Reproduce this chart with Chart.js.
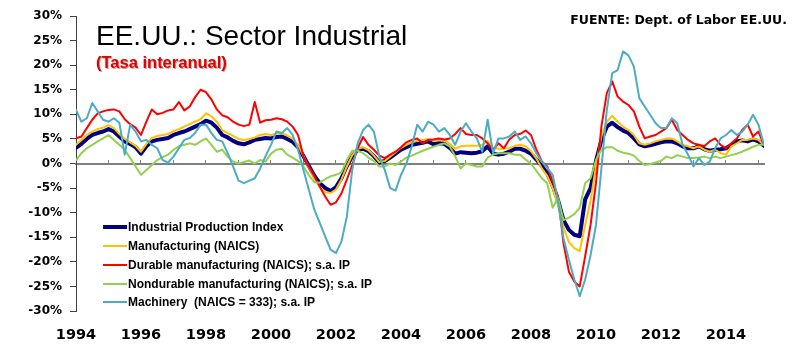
<!DOCTYPE html>
<html>
<head>
<meta charset="utf-8">
<script src="https://cdn.jsdelivr.net/npm/chart.js@4.4.1/dist/chart.umd.min.js"></script>
<style>
  html, body { margin: 0; padding: 0; background: #fff; }
  #wrap { position: relative; width: 800px; height: 355px; overflow: hidden; }
  #c { position: absolute; left: 0; top: 0; }
  .title { position: absolute; left: 96px; top: 22px; font: 28px/28px "Liberation Sans", Arial, sans-serif; color: #000; white-space: nowrap; }
  .subtitle { position: absolute; left: 96px; top: 54px; font: bold 16.5px/16.5px "Liberation Sans", Arial, sans-serif; color: #E00000; text-shadow: 1px 1px 0 rgba(110,0,0,0.35); white-space: nowrap; }
  .source { position: absolute; right: 13px; top: 14px; font: bold 12.5px/12.5px "DejaVu Sans", sans-serif; color: #000; white-space: nowrap; }
  .lg { position: absolute; left: 103px; height: 18px; display: flex; align-items: center; white-space: pre; font: bold 12px/18px "Liberation Sans", Arial, sans-serif; color: #000; }
  .lg span.sw { display: inline-block; width: 24px; margin-right: 1px; }
</style>
</head>
<body>
<div id="wrap">
  <canvas id="c" width="800" height="355"></canvas>
  <div class="title">EE.UU.: Sector Industrial</div>
  <div class="subtitle">(Tasa interanual)</div>
  <div class="source">FUENTE: Dept. of Labor EE.UU.</div>
  <div id="legend"></div>
</div>
<script>
// ---- Data (year-on-year %, sampled every two months from Jan 1994) ----
const startYear = 1994;
const periodsPerYear = 6;

const seriesNames = [
  "Industrial Production Index",
  "Manufacturing (NAICS)",
  "Durable manufacturing (NAICS); s.a. IP",
  "Nondurable manufacturing (NAICS); s.a. IP",
  "Machinery  (NAICS = 333); s.a. IP"
];

const ipIndex = [
  3.2, 4.0, 5.0, 5.8, 6.2, 6.5,
  7.0, 6.5, 5.5, 4.5, 4.0, 3.3,
  2.0, 3.5, 4.5, 4.8, 5.0, 5.2,
  5.8, 6.2, 6.5, 7.0, 7.5, 8.0,
  8.7, 8.3, 7.3, 5.8, 5.3, 4.6,
  4.1, 3.9, 4.3, 4.8, 5.0, 5.2,
  5.1, 5.4, 5.5, 5.0, 4.4, 3.3,
  1.5, -0.5, -2.5, -4.0, -5.0, -5.6,
  -4.8, -3.0, -0.5, 1.5, 2.8, 3.0,
  2.5, 1.5, 0.2, 0.5, 1.2, 2.0,
  2.8, 3.3, 3.8, 4.0, 4.2, 4.5,
  3.9, 4.1, 4.0, 3.2, 2.0, 2.3,
  2.2, 2.1, 2.2, 2.5, 3.5, 2.0,
  1.8, 2.0, 2.4, 3.0, 3.0, 2.6,
  2.0, 0.8, -0.5, -2.0, -4.5, -7.5,
  -11.5, -13.5, -14.5, -14.8, -7.3, -5.0,
  0.5, 4.8, 7.5, 8.3, 7.4, 6.7,
  6.2, 5.1, 3.9, 3.5, 3.7, 4.0,
  4.3, 4.5, 4.5, 4.1, 3.5, 3.1,
  3.1, 3.5, 2.9, 2.6, 2.8, 2.9,
  3.1, 3.8, 4.5, 4.7, 4.5, 4.9,
  4.5, 3.6
];

const manufacturing = [
  3.8, 4.8, 5.8, 6.5, 7.0, 7.3,
  7.8, 7.2, 6.0, 5.0, 4.3, 3.6,
  2.4, 4.0, 5.2, 5.6, 5.8, 6.0,
  6.6, 7.0, 7.5, 8.0, 8.5, 9.0,
  10.2, 9.6, 8.5, 6.8, 6.2, 5.6,
  5.0, 4.8, 5.0, 5.3, 5.8, 6.0,
  5.8, 6.1, 6.2, 5.7, 5.0, 3.8,
  1.5, -0.8, -3.0, -4.8, -5.8, -6.0,
  -5.3, -3.3, -0.6, 1.7, 3.0, 3.3,
  2.7, 1.6, 0.3, 0.5, 1.4, 2.3,
  3.2, 3.8, 4.3, 4.6, 4.8, 5.0,
  4.6, 4.8, 4.8, 4.0, 3.0, 3.5,
  3.6, 3.6, 3.6, 3.8, 4.6, 3.2,
  3.0, 3.0, 3.1, 3.6, 3.8, 3.5,
  2.5, 1.0, -1.0, -2.5, -5.0, -8.5,
  -13.0, -16.0, -17.2, -17.8, -12.5, -7.5,
  -0.5, 5.5, 8.5, 9.7, 8.5, 7.5,
  6.8, 5.8, 4.1, 3.8, 4.1, 4.5,
  4.8, 5.1, 5.1, 4.5, 3.8, 3.5,
  3.1, 3.5, 2.8, 2.4, 2.8, 2.1,
  1.8, 3.5, 4.1, 4.8, 4.8, 5.1,
  4.8, 3.8
];

const durable = [
  5.1, 5.5, 7.2, 8.9, 10.2, 10.6,
  10.9, 11.0, 10.6, 9.0, 8.0, 7.3,
  5.8, 8.5, 11.0, 10.0, 10.3, 10.8,
  11.0, 12.5, 10.8, 11.6, 13.5, 15.0,
  14.5, 13.0, 11.0, 9.8, 9.4, 8.5,
  7.9, 7.6, 7.9, 12.5, 8.3, 8.8,
  8.9, 9.2, 9.0, 8.5, 7.5, 5.8,
  1.4, -0.6, -2.6, -4.7, -6.7, -8.4,
  -7.9, -6.1, -3.3, -0.3, 3.1, 5.4,
  3.8, 2.8, 1.6, 1.1, 1.8, 2.4,
  3.3, 4.3, 4.8, 5.1, 4.1, 4.8,
  4.9, 5.1, 4.9, 5.1, 6.0, 7.2,
  6.0, 5.8, 5.8, 5.1, 4.1, 2.8,
  4.1, 3.1, 4.9, 5.8, 6.0, 6.7,
  5.8, 2.8, 0.4, -0.6, -3.7, -6.7,
  -16.2, -22.0, -24.0, -25.0, -18.9, -12.5,
  -4.0, 7.5, 14.3, 16.7, 13.6, 12.6,
  11.9, 10.6, 7.5, 5.1, 5.5, 5.8,
  6.5, 7.2, 8.9, 6.8, 5.8, 4.8,
  4.1, 3.8, 3.5, 4.5, 5.1, 3.8,
  3.1, 4.1, 5.1, 6.8, 7.9, 5.5,
  6.5, 3.8
];

const nondurable = [
  0.7, 2.1, 3.1, 3.8, 4.5, 5.1,
  5.8, 4.8, 3.8, 2.8, 1.1, -0.6,
  -2.3, -1.3, -0.3, 0.7, 1.3, 1.8,
  2.8, 3.5, 3.8, 4.1, 3.8, 4.5,
  5.1, 3.8, 2.4, 2.8, 1.4, 0.4,
  0.0, 0.3, 0.6, 0.0, 0.7, 0.4,
  2.0, 2.8, 3.0, 1.8, 1.2, 0.5,
  -0.6, -2.4, -3.8, -3.9, -3.2, -2.6,
  -2.3, -1.8, 0.7, 2.6, 2.6, 2.1,
  1.2, 0.5, -0.6, -0.6, 0.0, -0.3,
  0.4, 1.2, 1.6, 2.1, 2.6, 3.0,
  3.4, 3.8, 4.1, 3.5, 1.5, -1.0,
  0.0, -0.3, -0.6, -0.6, 1.2, 1.8,
  2.1, 2.1, 2.1, 1.8, 1.8, 0.8,
  0.0, -1.5, -3.0, -4.0, -9.0, -7.0,
  -11.5, -11.0, -10.3, -9.0, -4.0, -3.0,
  0.7, 2.8, 3.3, 3.3, 2.6, 2.2,
  2.0, 1.6, 0.5, -0.3, -0.1, 0.2,
  0.5, 1.4, 1.1, 1.7, 1.4, 1.1,
  1.1, 1.2, 1.4, 1.1, 1.4, 1.1,
  1.4, 1.7, 2.0, 2.4, 2.9, 3.4,
  3.8, 3.8
];

const machinery = [
  10.9, 8.5, 9.2, 12.3, 10.6, 8.9,
  8.5, 9.2, 8.3, 1.8, 7.9, 6.5,
  4.5, 4.8, 3.8, 3.1, 0.7, 0.2,
  1.4, 3.1, 4.8, 5.2, 6.2, 7.9,
  7.9, 6.2, 4.8, 4.5, 2.1, -0.6,
  -3.5, -4.0, -3.5, -3.0, -1.0, 1.5,
  3.8, 6.5, 6.2, 7.2, 5.8, 2.8,
  -1.3, -5.4, -9.4, -12.1, -14.8, -17.5,
  -18.2, -15.9, -10.8, -1.3, 4.1, 6.8,
  7.9, 6.5, 1.4, -1.3, -5.0, -5.5,
  -2.3, 0.0, 3.5, 7.9, 6.5, 8.5,
  7.9, 6.5, 7.2, 5.8, 3.8, 6.5,
  8.2, 6.5, 5.1, 2.4, 8.9, 2.1,
  5.1, 5.1, 5.5, 6.5, 4.8, 5.5,
  4.1, 2.1, 0.4, -0.9, -2.3, -7.7,
  -15.2, -19.6, -23.6, -27.0, -23.6, -18.6,
  -12.5, -1.0, 10.9, 18.4, 19.0, 22.8,
  22.0, 19.7, 13.3, 11.6, 9.9, 8.2,
  7.2, 7.2, 9.2, 8.2, 3.8, 1.8,
  -0.6, 1.1, -0.3, 0.4, 3.1, 5.1,
  5.8, 6.8, 5.8, 6.5, 7.9, 9.9,
  7.9, 3.8
];

const xLabelYears = [1994, 1996, 1998, 2000, 2002, 2004, 2006, 2008, 2010, 2012, 2014];
const yTickValues = [-30, -25, -20, -15, -10, -5, 0, 5, 10, 15, 20, 25, 30];
const xMin = 1994, xMax = 2015.17;

// ---- Styles ----
const colors = ["#000080", "#FFC000", "#FF0000", "#92D050", "#4BACC6"];
const widths = [4, 2, 2, 2, 2];
const allSeries = [ipIndex, manufacturing, durable, nondurable, machinery];

const yearMarks = [];
for (let y = 1994; y <= 2015; y++) yearMarks.push(y);

const datasets = allSeries.map((arr, k) => ({
  label: seriesNames[k],
  data: arr.map((v, i) => ({ x: startYear + i / periodsPerYear, y: v })),
  borderColor: colors[k],
  borderWidth: widths[k],
  pointRadius: 0,
  fill: false,
  tension: 0,
  xAxisID: 'x',
  yAxisID: 'y',
  order: allSeries.length - k
}));

new Chart(document.getElementById('c'), {
  type: 'line',
  data: { datasets },
  options: {
    responsive: false,
    animation: false,
    devicePixelRatio: 1,
    layout: { padding: { left: 0, right: 36, top: 16, bottom: 0 } },
    plugins: { legend: { display: false }, tooltip: { enabled: false } },
    elements: { line: { borderJoinStyle: 'round', borderCapStyle: 'round' } },
    scales: {
      x: {
        type: 'linear', min: xMin, max: xMax,
        afterBuildTicks: s => { s.ticks = xLabelYears.map(v => ({ value: v })); },
        afterFit: s => { s.height = 44; },
        ticks: {
          callback: v => String(v), autoSkip: false, maxRotation: 0,
          font: { family: 'DejaVu Sans', weight: 'bold', size: 14.5 },
          color: '#000', padding: 8
        },
        grid: { display: false },
        border: { display: false }
      },
      x0: {
        type: 'linear', min: xMin, max: xMax,
        position: { y: 0 },
        afterBuildTicks: s => { s.ticks = yearMarks.map(v => ({ value: v })); },
        ticks: { display: false },
        grid: { drawOnChartArea: false, drawTicks: true, tickLength: -5, color: '#808080', lineWidth: 1 },
        border: { display: true, color: '#808080', width: 2 }
      },
      y: {
        type: 'linear', min: -30, max: 30,
        afterBuildTicks: s => { s.ticks = yTickValues.map(v => ({ value: v })); },
        afterFit: s => { s.width = 76; },
        ticks: {
          callback: v => v + '%',
          font: { family: 'DejaVu Sans', weight: 'bold', size: 12 },
          color: '#000', padding: 8
        },
        grid: { drawOnChartArea: false, drawTicks: true, tickLength: 6, color: '#404040' },
        border: { display: true, color: '#404040', width: 1 }
      }
    }
  }
});

// ---- HTML legend inside the plot ----
const legend = document.getElementById('legend');
seriesNames.forEach((name, k) => {
  const row = document.createElement('div');
  row.className = 'lg';
  row.style.top = (227.3 + k * 18.75 - 9) + 'px';
  const sw = document.createElement('span');
  sw.className = 'sw';
  sw.style.height = widths[k] + 'px';
  sw.style.background = colors[k];
  row.appendChild(sw);
  row.appendChild(document.createTextNode(name));
  legend.appendChild(row);
});
</script>
</body>
</html>
